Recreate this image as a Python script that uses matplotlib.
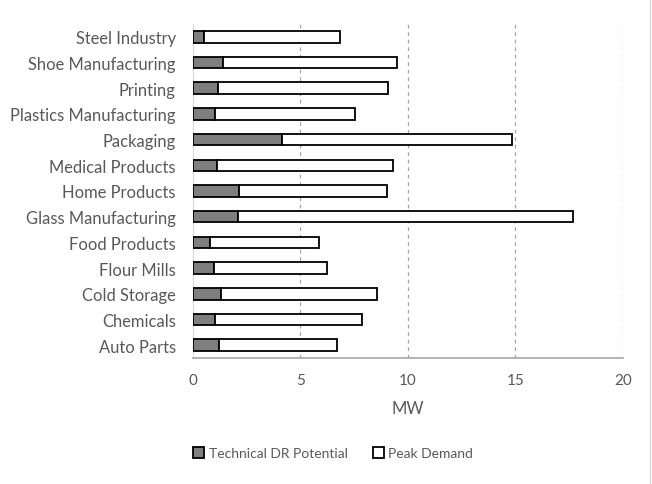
import matplotlib.pyplot as plt
from matplotlib.lines import Line2D
from matplotlib.patches import Patch

plt.rcParams['font.family'] = ['Lato', 'DejaVu Sans']

# industries listed bottom to top
industries = ["Auto Parts", "Chemicals", "Cold Storage", "Flour Mills", "Food Products",
              "Glass Manufacturing", "Home Products", "Medical Products", "Packaging",
              "Plastics Manufacturing", "Printing", "Shoe Manufacturing", "Steel Industry"]
dr_potential = [1.23, 1.06, 1.31, 0.98, 0.81, 2.13, 2.16, 1.14, 4.14, 1.06, 1.18, 1.43, 0.53]
peak_demand = [5.48, 6.82, 7.27, 5.28, 5.09, 15.54, 6.87, 8.18, 10.69, 6.50, 7.92, 8.09, 6.33]

text_gray = '#595959'

fig = plt.figure(figsize=(6.52, 4.85), dpi=100)
ax = fig.add_axes([192.5 / 652, 1 - 359 / 485, (623 - 192.5) / 652, (359 - 25) / 485])

y = range(len(industries))
ax.barh(y, dr_potential, height=0.45, color='#7f7f7f', edgecolor='black', linewidth=1.3,
        label='Technical DR Potential', zorder=3)
ax.barh(y, peak_demand, left=dr_potential, height=0.45, color='white', edgecolor='black',
        linewidth=1.3, label='Peak Demand', zorder=3)

ax.set_xlim(0, 20)
ax.set_ylim(-0.5, len(industries) - 0.5)
ax.set_xticks([0, 5, 10, 15, 20])
ax.set_yticks(list(y))
ax.set_yticklabels(industries, fontsize=11.9)
ax.tick_params(axis='both', length=0, colors=text_gray)
ax.tick_params(axis='x', pad=11, labelsize=11)
ax.tick_params(axis='y', pad=12)

for v in [5, 10, 15, 20]:
    ax.axvline(v, color='#a6a6a6', linestyle=(0, (3, 3)), linewidth=0.9, zorder=1)

for side in ['top', 'right']:
    ax.spines[side].set_visible(False)
ax.spines['left'].set_color('#d9d9d9')
ax.spines['bottom'].set_color('#a6a6a6')
ax.spines['bottom'].set_linewidth(1.2)

ax.set_xlabel('MW', color=text_gray, fontsize=12, labelpad=9)

handles = [Patch(facecolor='#7f7f7f', edgecolor='black', linewidth=1.3),
           Patch(facecolor='white', edgecolor='black', linewidth=1.3)]
fig.legend(handles, ['Technical DR Potential', 'Peak Demand'], loc='center',
           bbox_to_anchor=(333 / 652, 1 - 454 / 485), ncol=2, frameon=False,
           fontsize=10, labelcolor=text_gray, handlelength=0.8, handleheight=0.8,
           handletextpad=0.3, columnspacing=1.8)

# thin border on the right side of the chart area
fig.add_artist(Line2D([650 / 652, 650 / 652], [0, 1], color='#d9d9d9', linewidth=1))

fig.savefig('out.png', dpi=100)
